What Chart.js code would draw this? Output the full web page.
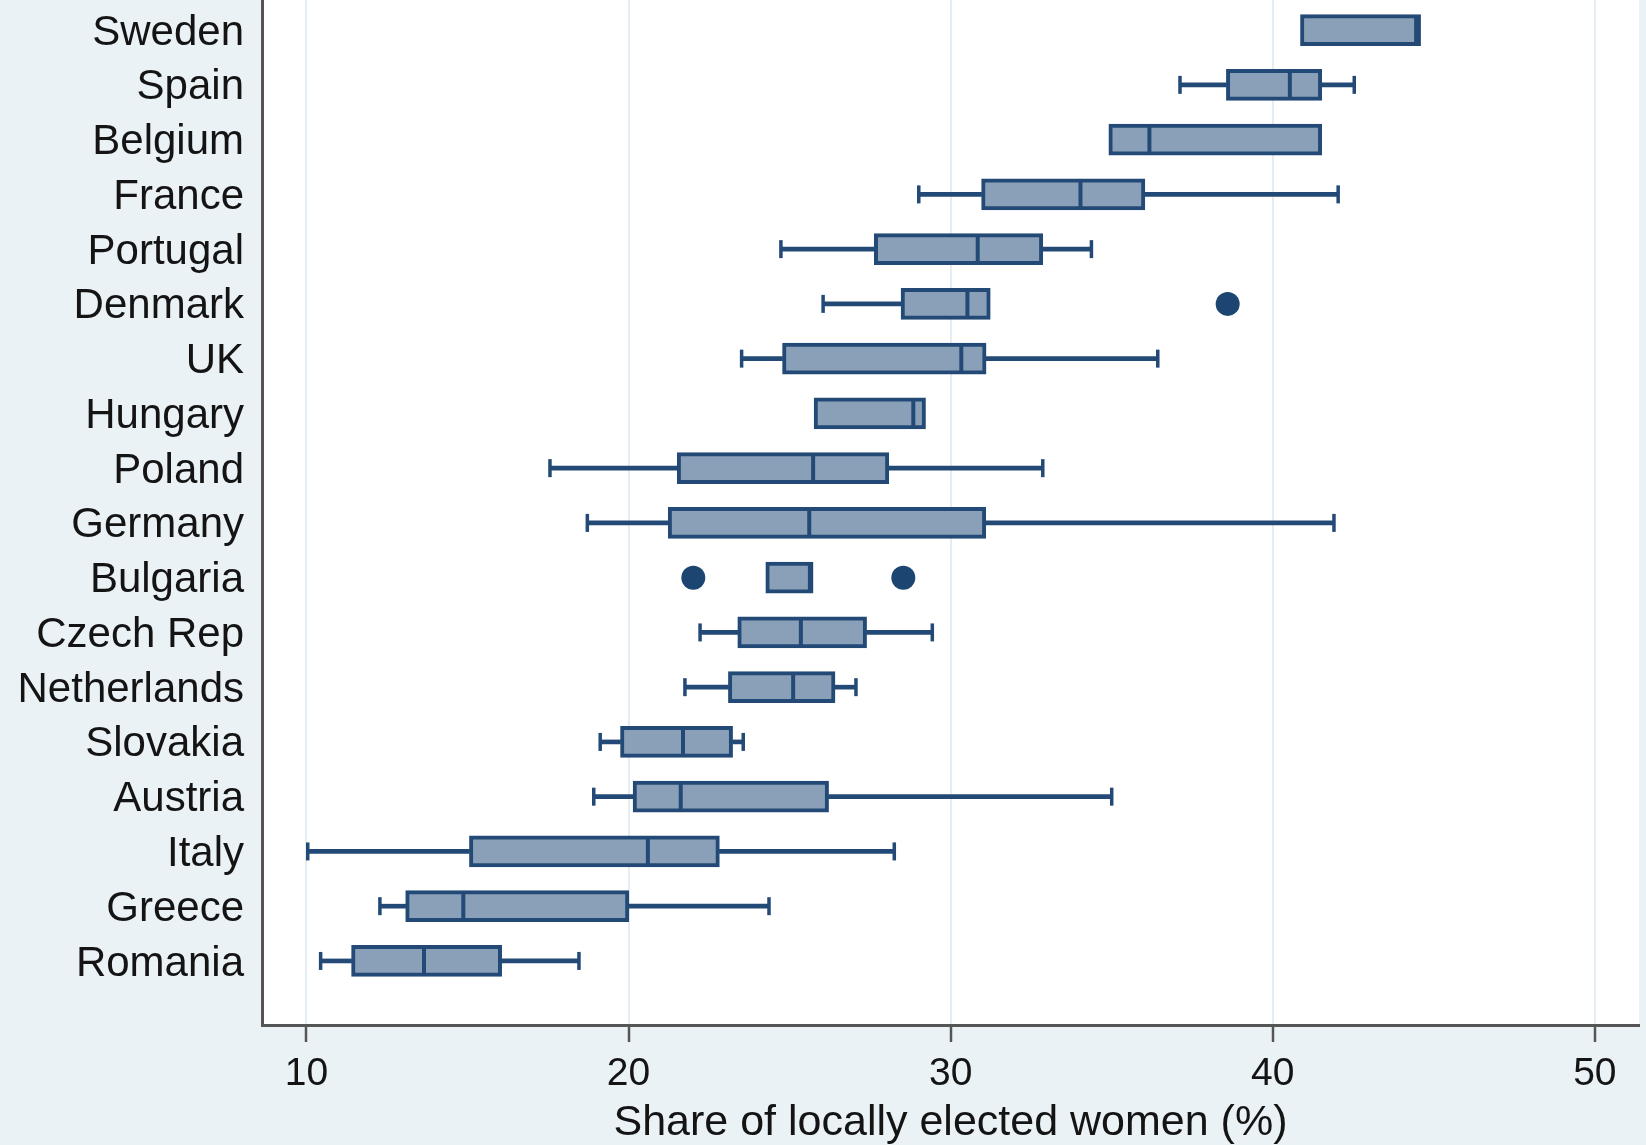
<!DOCTYPE html>
<html>
<head>
<meta charset="utf-8">
<script src="https://cdn.jsdelivr.net/npm/chart.js@4/dist/chart.umd.min.js"></script>
<style>
  html, body { margin: 0; padding: 0; background: #eaf2f6; }
  #wrap { width: 1646px; height: 1145px; }
</style>
</head>
<body>
<div id="wrap"><canvas id="boxChart" width="1646" height="1145"></canvas></div>
<script>
// countries, top to bottom
var countries = ["Sweden", "Spain", "Belgium", "France", "Portugal", "Denmark", "UK", "Hungary",
    "Poland", "Germany", "Bulgaria", "Czech Rep", "Netherlands", "Slovakia", "Austria",
    "Italy", "Greece", "Romania"];

// box plot values (null = no whisker)
var whiskerLow  = [null, 37.12, null, 29.01, 24.73, 26.04, 23.51, null, 17.56, 18.72, null, 22.22, 21.75, 19.12, 18.92, 10.04, 12.28, 10.44];
var lowerQuart  = [40.86, 38.56, 34.91, 30.96, 27.63, 28.46, 24.78, 25.76, 21.51, 21.23, 24.26, 23.39, 23.10, 19.75, 20.14, 15.06, 13.08, 11.40];
var medians     = [44.45, 40.53, 36.17, 34.03, 30.84, 30.52, 30.33, 28.84, 25.73, 25.61, 25.63, 25.35, 25.11, 21.69, 21.62, 20.60, 14.87, 13.65];
var upperQuart  = [44.59, 41.52, 41.52, 36.03, 32.86, 31.23, 31.10, 29.22, 28.08, 31.09, 25.73, 27.39, 26.41, 23.23, 26.21, 22.82, 20.01, 16.06];
var whiskerHigh = [null, 42.53, null, 42.03, 34.37, null, 36.43, null, 32.86, 41.90, null, 29.43, 27.06, 23.56, 35.00, 28.25, 24.36, 18.46];

// outside values
var outlierCountry = ["Denmark", "Bulgaria", "Bulgaria"];
var outlierValue   = [38.60, 22.01, 28.53];

var xTicks = [10, 20, 30, 40, 50];

var boxFill = "#8a9fb8";
var navy = "#234a76";
var textColor = "#141414";

// build the datasets from the arrays
var boxData = [], lowWhisker = [], highWhisker = [], capPoints = [], medianPoints = [], outlierPoints = [];
for (var i = 0; i < countries.length; i++) {
    boxData.push({ x: [lowerQuart[i], upperQuart[i]], y: i });
    medianPoints.push({ x: medians[i], y: i });
    if (whiskerLow[i] !== null) {
        lowWhisker.push({ x: [whiskerLow[i], lowerQuart[i]], y: i });
        capPoints.push({ x: whiskerLow[i], y: i });
    }
    if (whiskerHigh[i] !== null) {
        highWhisker.push({ x: [upperQuart[i], whiskerHigh[i]], y: i });
        capPoints.push({ x: whiskerHigh[i], y: i });
    }
}
for (var j = 0; j < outlierValue.length; j++) {
    outlierPoints.push({ x: outlierValue[j], y: countries.indexOf(outlierCountry[j]) });
}

// outer background + white plot area
var backgroundPlugin = {
    id: "backgrounds",
    beforeDraw: function(chart) {
        var c = chart.ctx, a = chart.chartArea;
        c.save();
        c.fillStyle = "#eaf2f6";
        c.fillRect(0, 0, chart.width, chart.height);
        c.fillStyle = "#ffffff";
        c.fillRect(a.left, a.top, a.right - a.left, a.bottom - a.top);
        c.restore();
    }
};

var ctx = document.getElementById("boxChart");
var boxChart = new Chart(ctx, {
    data: {
        datasets: [
            {
                type: "scatter", label: "median", data: medianPoints,
                pointStyle: "line", rotation: 90, pointRadius: 14,
                borderColor: navy, pointBorderWidth: 4
            },
            {
                type: "scatter", label: "caps", data: capPoints,
                pointStyle: "line", rotation: 90, pointRadius: 9,
                borderColor: navy, pointBorderWidth: 3.5
            },
            {
                type: "scatter", label: "outliers", data: outlierPoints,
                pointStyle: "circle", pointRadius: 12,
                backgroundColor: "#1c4571", borderWidth: 0
            },
            {
                type: "bar", label: "box", data: boxData, indexAxis: "y", grouped: false,
                barThickness: 31, backgroundColor: boxFill, borderColor: navy,
                borderWidth: 4, borderSkipped: false
            },
            {
                type: "bar", label: "lower whisker", data: lowWhisker, indexAxis: "y", grouped: false,
                barThickness: 4, backgroundColor: navy, borderWidth: 0
            },
            {
                type: "bar", label: "upper whisker", data: highWhisker, indexAxis: "y", grouped: false,
                barThickness: 4, backgroundColor: navy, borderWidth: 0
            }
        ]
    },
    options: {
        responsive: false,
        animation: false,
        events: [],
        layout: { autoPadding: false, padding: { top: 0, right: 7, bottom: 0, left: 0 } },
        plugins: {
            legend: { display: false },
            tooltip: { enabled: false }
        },
        scales: {
            x: {
                type: "linear",
                position: "bottom",
                offset: false,
                min: 8.62,
                max: 51.37,
                afterBuildTicks: function(scale) {
                    scale.ticks = xTicks.map(function(v) { return { value: v }; });
                },
                afterFit: function(scale) {
                    scale.height = 120;
                    scale.paddingLeft = 0;
                    scale.paddingRight = 0;
                },
                grid: {
                    offset: false,
                    color: "#e4edf3",
                    lineWidth: 2,
                    tickColor: "#555555",
                    tickLength: 17,
                    tickWidth: 2.5
                },
                border: { color: "#555555", width: 3 },
                ticks: {
                    color: textColor,
                    padding: 9,
                    maxRotation: 0,
                    font: { family: "'Liberation Sans', Arial, sans-serif", size: 39 }
                },
                title: {
                    display: true,
                    text: "Share of locally elected women (%)",
                    color: textColor,
                    padding: { top: 0, bottom: -4 },
                    font: { family: "'Liberation Sans', Arial, sans-serif", size: 43, lineHeight: 1.2 }
                }
            },
            y: {
                type: "linear",
                position: "left",
                offset: false,
                reverse: true,
                min: -0.55,
                max: 18.17,
                afterBuildTicks: function(scale) {
                    scale.ticks = countries.map(function(c, k) { return { value: k }; });
                },
                afterFit: function(scale) {
                    scale.width = 262;
                    scale.paddingTop = 0;
                    scale.paddingBottom = 0;
                },
                grid: { display: false, drawTicks: false, offset: false },
                border: { color: "#555555", width: 3 },
                ticks: {
                    autoSkip: false,
                    color: textColor,
                    padding: 18,
                    labelOffset: 3,
                    font: { family: "'Liberation Sans', Arial, sans-serif", size: 42 },
                    callback: function(value) { return countries[value]; }
                }
            }
        }
    },
    plugins: [backgroundPlugin]
});
</script>
</body>
</html>
